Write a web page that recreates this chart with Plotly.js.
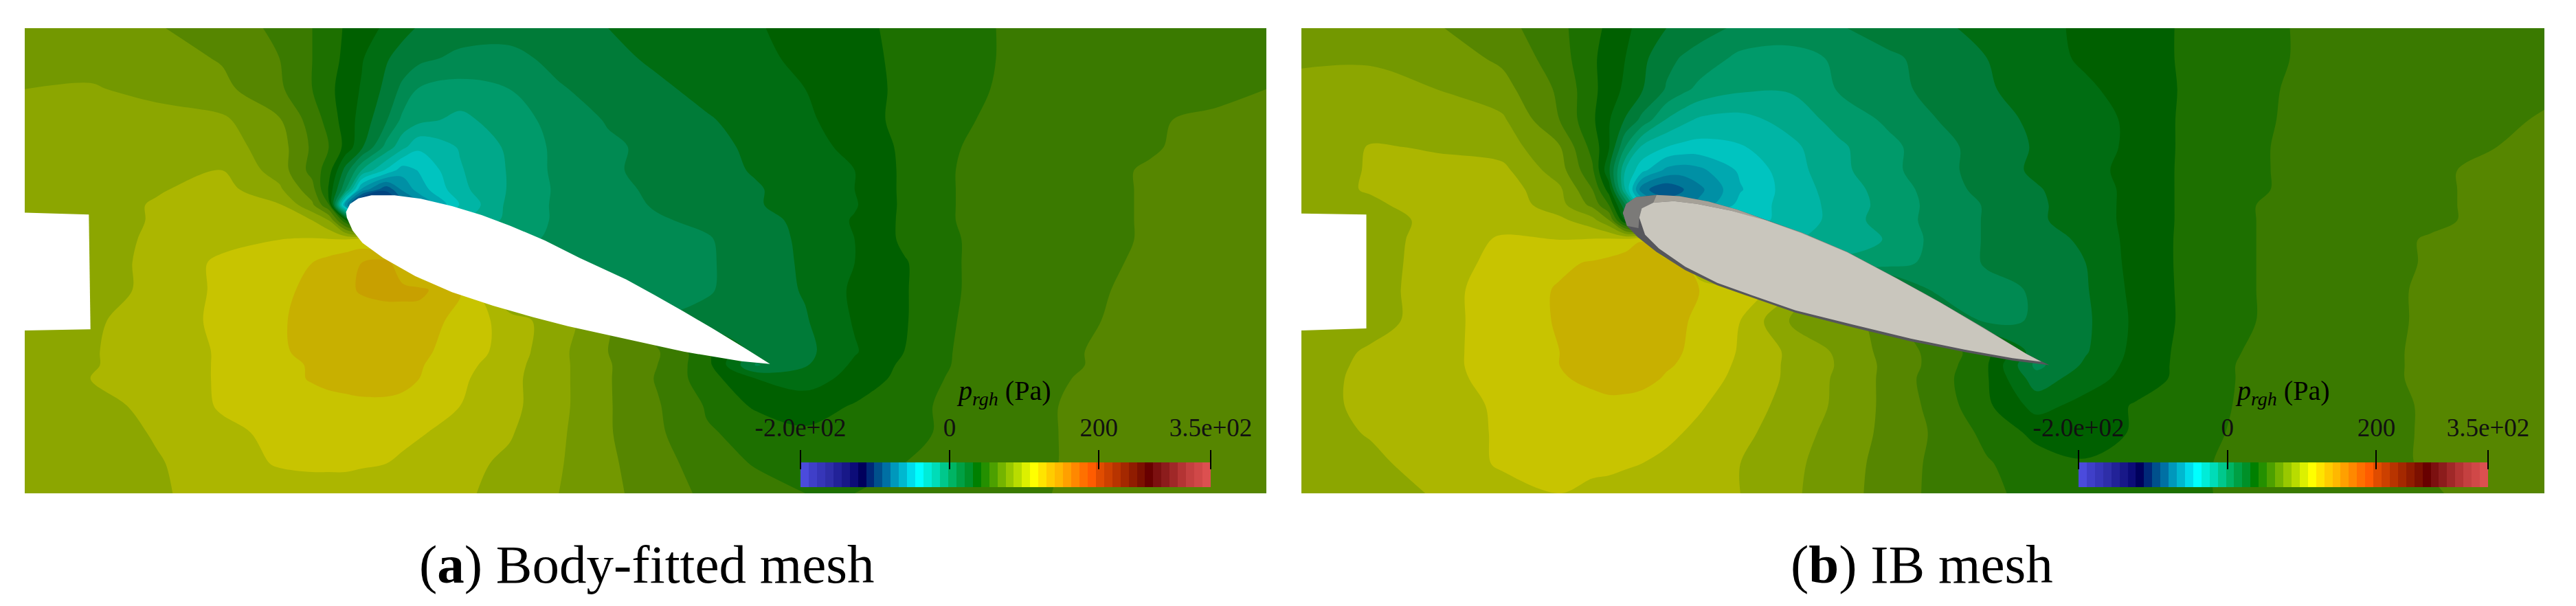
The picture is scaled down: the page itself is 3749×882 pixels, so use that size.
<!DOCTYPE html>
<html>
<head>
<meta charset="utf-8">
<script src="https://cdn.plot.ly/plotly-3.0.1.min.js"></script>
<style>html,body{margin:0;background:#fff}</style>
</head>
<body>
<div id="plot" style="width:3749px;height:882px"></div>
<script>
// pressure p_rgh (Pa), rows top to bottom
var gridY = [72,150,230,310,380,440,490,530,570,620,680,750,830,910,945,980,1050,1120,1200,1277];

var gridXA = [30,110,190,270,340,380,400,420,440,470,490,510,560,620,680,740,800,860,920,980,1040,1100,1170,1240,1320,1400,1480,1541];
var pressureA = [
[82,80,76,69,62,53,47,41,36,29,23,19,15,13,15,20,24,27,30,35,40,44,50,55,57,58,59,60],
[83,82,80,74,64,53,46,40,32,21,16,12,6,6,12,17,22,25,29,33,39,44,50,55,57,58,60,61],
[86,87,83,78,66,53,45,37,30,17,6,-3,-6,-2,8,13,18,23,27,31,38,44,51,55,57,59,61,64],
[89,90,90,88,76,59,49,37,27,10,-5,-10,-16,-7,2,10,14,19,24,29,37,45,52,56,59,63,66,69],
[90,90,91,91,80,62,53,39,22,-6,-21,-33,-23,-11,1,7,12,17,22,27,34,44,53,57,60,63,68,71],
[91,92,93,97,81,60,47,16,-13,-37,-52,-45,-25,-12,1,7,13,16,21,26,31,44,54,58,61,65,70,73],
[91,92,96,101,88,68,40,0,-60,-88,-66,-52,-27,-12,0,6,11,15,19,25,31,44,54,58,61,65,70,73],
[91,92,98,103,98,77,54,-60,-122,-105,-85,-70,-34,-10,0,5,10,15,19,25,30,44,54,58,61,65,70,74],
[91,92,98,104,100,97,86,45,0,-20,-30,-30,-25,-10,0,4,8,11,16,23,32,44,54,58,61,65,70,74],
[91,92,99,105,108,109,109,109,112,100,80,60,20,-5,0,3,6,8,15,22,31,44,53,58,61,65,70,74],
[90,90,101,110,116,119,123,127,130,134,120,100,50,20,5,3,6,8,13,22,31,41,53,57,61,66,71,74],
[90,90,101,110,117,121,125,128,131,133,133,133,120,80,30,5,5,8,14,21,33,41,53,57,62,67,71,74],
[90,95,103,110,118,122,123,124,125,125,125,124,116,103,90,78,10,12,15,19,32,41,54,59,63,67,71,74],
[90,96,103,109,118,121,122,122,123,123,123,121,115,103,89,75,66,45,14,17,30,42,55,60,64,68,71,74],
[90,96,103,109,116,120,122,123,124,124,123,120,112,101,89,76,64,46,8,19,33,44,55,60,64,68,71,74],
[90,97,103,109,115,120,122,124,125,125,123,119,110,100,89,76,63,47,31,27,34,46,56,60,65,68,71,74],
[89,92,101,109,112,114,115,115,116,116,115,113,108,100,89,76,65,52,40,36,43,50,56,61,66,69,72,74],
[88,91,98,106,110,112,113,113,113,112,111,109,104,98,88,76,66,54,50,44,45,50,56,61,66,69,72,74],
[87,90,96,103,109,110,110,110,109,108,106,104,100,95,87,77,68,59,52,48,48,53,57,61,66,69,72,74],
[87,90,96,100,102,103,103,103,103,102,102,101,99,93,86,78,69,62,58,53,53,56,59,62,66,69,72,74]
];

var gridXB = [16,100,180,260,330,370,390,410,430,460,480,500,550,610,670,730,790,850,910,970,1030,1090,1160,1230,1310,1390,1470,1528];
var pressureB = [
[83,80,76,68,56,45,40,33,28,20,16,13,7,5,8,14,18,23,28,33,38,43,48,54,57,59,61,62],
[85,85,81,73,58,44,37,31,23,12,8,5,-5,-7,0,7,13,20,26,33,38,43,48,54,57,59,61,62],
[88,89,86,79,62,45,36,29,21,8,1,-5,-11,-12,-1,6,12,19,24,29,36,43,49,55,57,60,62,62],
[89,90,90,88,64,44,32,19,6,-14,-21,-26,-28,-20,-9,0,9,16,22,27,33,44,50,55,57,60,62,65],
[88,98,96,92,76,49,32,-2,-26,-35,-38,-39,-36,-27,-15,-5,5,14,21,27,33,44,51,55,57,60,64,68],
[90,98,100,100,80,55,22,-24,-42,-60,-63,-60,-44,-29,-16,-5,5,14,22,28,34,44,51,55,58,62,67,70],
[92,98,102,103,88,64,37,-24,-75,-88,-80,-71,-47,-30,-19,-8,3,13,19,26,34,44,51,55,58,62,67,71],
[92,95,102,105,90,72,53,10,-40,-70,-72,-65,-42,-31,-20,-9,2,10,18,26,34,44,52,56,59,62,67,72],
[85,92,100,105,100,90,76,30,0,-20,-30,-35,-38,-33,-19,-8,2,10,18,26,34,44,52,56,59,62,67,72],
[85,90,103,109,108,109,110,111,118,90,60,30,-10,-25,-20,-12,2,10,15,22,35,44,52,56,60,65,70,74],
[85,91,103,111,117,120,122,126,130,125,120,90,50,10,-10,-7,2,10,15,20,35,44,52,56,60,65,71,75],
[85,91,104,113,120,123,125,127,128,124,123,119,115,100,70,30,5,6,10,19,34,44,52,56,60,66,71,75],
[85,91,104,113,120,123,125,125,125,123,120,117,108,85,80,70,30,6,10,18,33,44,52,56,60,66,71,75],
[88,99,105,112,119,122,123,124,123,121,119,116,107,95,84,71,60,46,13,19,34,45,53,57,61,66,71,75],
[90,100,105,112,119,122,123,124,123,120,118,115,106,95,85,72,60,43,6,22,35,45,54,58,61,66,71,75],
[92,100,105,111,118,121,122,123,122,118,116,113,105,95,84,72,58,43,14,26,36,45,54,58,61,66,71,75],
[92,100,105,109,114,116,117,116,115,113,111,109,103,93,84,72,60,44,27,35,43,48,54,58,61,65,70,74],
[91,98,104,109,112,113,113,113,112,110,108,106,100,91,82,72,62,50,39,37,43,48,55,58,61,65,70,74],
[89,94,103,109,110,110,110,109,108,106,104,102,97,89,80,71,61,54,47,43,46,50,56,59,61,65,70,73],
[87,92,98,105,108,106,105,104,103,101,100,99,97,88,80,70,61,55,50,47,48,51,55,58,61,63,68,72]
];

// band colours of the field, from just under -123 Pa up to the top band at 130-141 Pa
var fieldColors = ['#06066a','#00005c','#002a78','#004480','#00588a','#007898','#0090a5','#00a8b0','#00c4c0',
  '#00b5a5','#00a88a','#009a6a','#008a52','#007b38','#006d12','#006000','#1d7000','#3a7a00','#568600',
  '#739800','#8ca600','#acb600','#c8c400','#c8b000','#c8a000'];
var bandStart = -123, bandSize = 11, bandEnd = 130;

// colour bar cells, -200 to 350 Pa
var barColors = ['#4b4bdc','#3f3fc8','#3636b8','#2e2ea8','#222298','#181888','#0c0c78','#00005c','#002878','#00508c',
  '#0070a4','#0098bc','#00b8d0','#00dcec','#00ffff','#00ecd8','#00dcb8','#00c88c','#00b464','#00a044',
  '#009028','#008000','#249000','#4ca000','#74b400','#98c800','#b8dc00','#dcf000','#ffff00','#ffe400',
  '#ffcc00','#ffb800','#ffa000','#ff8800','#ff7000','#ff5c00','#e04c00','#cc4000','#b83400','#a42800',
  '#901c00','#7c1000','#680000','#7c1010','#8c1c1c','#a02828','#b43434','#c44040','#d04848','#dc5050'];
var barValues = barColors.map(function(c, i){ return -194.5 + 11*i; });
var barTicks = [-200, 0, 200, 350];
var barTickText = ['-2.0e+02', '0', '200', '3.5e+02'];

// inlet cut-out on the left wall
var inletXA = [30,108,110,30], inletYA = [550,555,852,855];
var inletXB = [16,95,95,16], inletYB = [552,555,850,855];

// body-fitted airfoil
var foilXA = [421,426,436,452,480,512,550,586,621,663,705,762,797,832,867,902,937,902,832,762,691,649,600,550,505,466,441,429,422];
var foilYA = [548,527,513,505,505,514,533,556,584,622,667,723,764,806,850,895,942,935,910,877,844,821,791,756,714,667,628,596,563];

// IB airfoil: dark outer surface, lit rims, pale face
var shellXB = [407,411,423,448,476,511,546,581,624,680,740,793,845,898,926,881,828,757,687,617,564,522,483,448,425,412];
var shellYB = [551,527,510,504,507,521,542,569,601,652,720,782,847,916,945,933,913,883,847,809,770,738,699,652,613,584];
var noseXB = [407,411,423,448,444,430,427,426,412];
var noseYB = [551,527,510,504,524,539,563,590,584];
var topRimXB = [448,476,511,546,581,624,680,740,793,845,898,916,898,845,793,740,680,624,581,539,497,469,444];
var topRimYB = [504,507,521,542,569,601,652,720,782,847,916,936,918,851,785,723,655,605,572,545,527,520,524];
var faceXB = [427,430,444,469,497,539,581,624,680,740,793,845,898,916,881,828,757,687,617,564,522,483,451,434];
var faceYB = [563,539,524,520,527,545,570,603,653,721,783,849,916,936,927,907,876,840,803,764,732,690,643,607];

function fieldScale(){
  return fieldColors.map(function(c, i){ return [i/(fieldColors.length-1), c]; });
}
function fieldTrace(x, y, z, xa, ya){
  return {type:'contour', x:x, y:y, z:z, xaxis:xa, yaxis:ya, autocontour:false, showscale:false,
    contours:{start:bandStart, end:bandEnd, size:bandSize, coloring:'fill', showlines:false},
    colorscale:fieldScale(), line:{width:0}, hoverinfo:'skip'};
}
function poly(x, y, color, xa, ya){
  return {type:'scatter', mode:'lines', x:x, y:y, xaxis:xa, yaxis:ya, fill:'toself', fillcolor:color,
    line:{width:0, color:color}, hoverinfo:'skip', showlegend:false};
}
function barTrace(xa, ya){
  var scale = [];
  barColors.forEach(function(c, i){
    scale.push([i/barColors.length, c]);
    scale.push([(i+1)/barColors.length, c]);
  });
  return {type:'heatmap', x:barValues, y:[0], z:[barValues], xaxis:xa, yaxis:ya, zmin:-200, zmax:350,
    colorscale:scale, showscale:false, hoverinfo:'skip'};
}
function hidden(domain, range, anchor){
  return {domain:domain, range:range, visible:false, anchor:anchor, fixedrange:true};
}
function barAxis(left, right){
  return {domain:[left/3749, right/3749], range:[-200,350], anchor:'free', position:(882-683)/882, side:'top',
    tickmode:'array', tickvals:barTicks, ticktext:barTickText, ticks:'outside', ticklen:28, tickwidth:2,
    ticklabelstandoff:5, tickcolor:'#000', showgrid:false, zeroline:false, showline:false, fixedrange:true,
    tickfont:{family:'Liberation Serif', size:37, color:'#111'}};
}
function label(x, y, text, size){
  return {xref:'paper', yref:'paper', x:x/3749, y:1-y/882, xanchor:'center', yanchor:'middle', showarrow:false,
    text:text, font:{family:'Liberation Serif', size:size, color:'#000'}};
}
var panelY = [1-718/882, 1-41/882];
var barY = [(882-709)/882, (882-673)/882];

var data = [
  fieldTrace(gridXA, gridY, pressureA, 'x', 'y'),
  poly(inletXA, inletYA, '#ffffff', 'x', 'y'),
  poly(foilXA, foilYA, '#ffffff', 'x', 'y'),
  fieldTrace(gridXB, gridY, pressureB, 'x2', 'y2'),
  poly(inletXB, inletYB, '#ffffff', 'x2', 'y2'),
  poly(shellXB, shellYB, '#56565b', 'x2', 'y2'),
  poly(noseXB, noseYB, '#7b7a78', 'x2', 'y2'),
  poly(topRimXB, topRimYB, '#a5a198', 'x2', 'y2'),
  poly(faceXB, faceYB, '#c9c6bd', 'x2', 'y2'),
  barTrace('x3', 'y3'),
  barTrace('x4', 'y4')
];

var layout = {
  width:3749, height:882, margin:{l:0,r:0,t:0,b:0}, paper_bgcolor:'#fff', plot_bgcolor:'rgba(0,0,0,0)', showlegend:false,
  xaxis:hidden([36/3749,1843/3749],[30,1541],'y'),
  yaxis:hidden(panelY,[1277,72],'x'),
  xaxis2:hidden([1894/3749,3703/3749],[16,1528],'y2'),
  yaxis2:hidden(panelY,[1277,72],'x2'),
  xaxis3:barAxis(1165,1762),
  yaxis3:hidden(barY,[-0.5,0.5],'x3'),
  xaxis4:barAxis(3025,3621),
  yaxis4:hidden(barY,[-0.5,0.5],'x4'),
  annotations:[
    label(1461, 571, '<i>p<sub>rgh</sub></i> (Pa)', 40),
    label(3322, 571, '<i>p<sub>rgh</sub></i> (Pa)', 40),
    label(941, 821, '(<b>a</b>) Body-fitted mesh', 79),
    label(2797, 821, '(<b>b</b>) IB mesh', 79)
  ]
};

Plotly.newPlot('plot', data, layout, {displayModeBar:false, staticPlot:true});
</script>
</body>
</html>
